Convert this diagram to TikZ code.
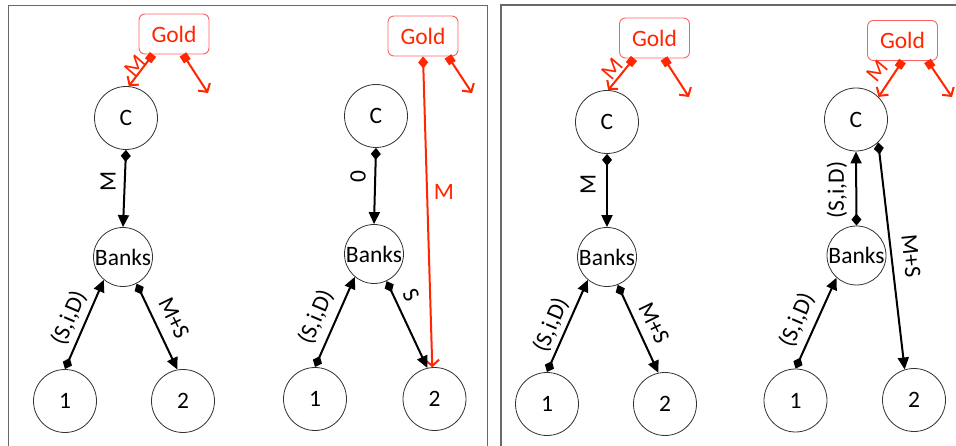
\documentclass[tikz,border=0pt]{standalone}
\usepackage{fontspec}
\setmainfont{Carlito}
\usetikzlibrary{arrows.meta}
\definecolor{pred}{RGB}{255,38,0}
\definecolor{pboxred}{RGB}{255,95,95}
\definecolor{framegray}{RGB}{105,105,105}
\begin{document}
\begin{tikzpicture}[x=1pt,y=-1pt,
  every node/.style={font=\fontsize{23.5}{28}\selectfont},
  agent/.style={circle, draw=black!80, line width=0.8pt, minimum size=63pt, inner sep=0pt, fill=white},
  bank/.style={agent, minimum size=59pt},
  goldbox/.style={draw=pboxred, rounded corners=6pt, line width=0.9pt, minimum width=70pt, minimum height=40pt, inner sep=0pt, text=pred},
  flow/.style={line width=2pt, {Diamond[length=12pt,width=10pt]}-{Triangle[length=12pt,width=11pt]}},
  goldflow/.style={draw=pred, line width=2pt, {Square[length=8pt,width=8pt]}-{Straight Barb[length=6pt,width=14pt]}},
  goldline/.style={draw=pred, line width=2pt, {Diamond[length=12pt,width=10pt]}-{Straight Barb[length=6pt,width=14pt]}},
  lbl/.style={inner sep=0pt},
  redlbl/.style={lbl, text=pred},
  frameline/.style={draw=framegray, line width=1.5pt}]
\useasboundingbox (0,0) rectangle (956,446);
% frames
\coordinate (fa1) at (8.5,446);
\coordinate (fa2) at (8.5,5.5);
\coordinate (fa3) at (487.5,5.5);
\coordinate (fa4) at (487.5,446);
\coordinate (fb1) at (501,446);
\coordinate (fb2) at (501,5);
\coordinate (fb3) at (956,5);
\draw[frameline] (fa1) -- (fa2) -- (fa3) -- (fa4);
\draw[frameline] (fb1) -- (fb2) -- (fb3);

% ---------- panel 1 ----------
\node[goldbox] (G1) at (174,34) {Gold};
\node[agent] (C1) at (126,118) {C};
\node[bank] (B1) at (123,257) {Banks};
\node[agent] (P11) at (65,401) {1};
\node[agent] (P12) at (183,401) {2};
\coordinate (f1) at (208,93);
\draw[goldflow] ([xshift=-21pt]G1.south) -- (C1.85);
\draw[goldflow] ([xshift=9pt]G1.south) -- (f1);
\draw[flow] (C1.south) -- (B1.north);
\draw[flow] (P11.north) -- (B1.230);
\draw[flow] (B1.-63) -- (P12.100);
\node[redlbl, rotate=49] (l1a) at (135,66) {M};
\node[lbl, rotate=90] (l1b) at (108,181) {M};
\node[lbl, rotate=67] (l1c) at (69,318) {(S,i,D)};
\node[lbl, rotate=-64] (l1d) at (174,318) {M+S};

% ---------- panel 2 ----------
\node[goldbox] (G2) at (423,36) {Gold};
\node[agent] (C2) at (376,116) {C};
\node[bank] (B2) at (374,254) {Banks};
\node[agent] (P21) at (315,399) {1};
\node[agent] (P22) at (434.5,399) {2};
\coordinate (f2) at (472,93);
\draw[goldline] (G2.south) -- (P22.94);
\draw[goldflow] ([xshift=25pt]G2.south) -- (f2);
\draw[flow] (C2.south) -- (B2.north);
\draw[flow] (P21.north) -- (B2.230);
\draw[flow] (B2.-65) -- (P22.103);
\node[redlbl] (l2a) at (444,192) {M};
\node[lbl, rotate=90] (l2b) at (358,177) {0};
\node[lbl, rotate=67] (l2c) at (316,317) {(S,i,D)};
\node[lbl, rotate=-64] (l2d) at (411,295) {S};

% ---------- panel 3 ----------
\node[goldbox] (G3) at (654.5,38) {Gold};
\node[agent] (C3) at (607,122) {C};
\node[bank] (B3) at (607,257) {Banks};
\node[agent] (P31) at (547,404) {1};
\node[agent] (P32) at (665,404) {2};
\coordinate (f3) at (689,97);
\draw[goldflow] ([xshift=-20.5pt]G3.south) -- (C3.88);
\draw[goldflow] ([xshift=9.5pt]G3.south) -- (f3);
\draw[flow] (C3.south) -- (B3.north);
\draw[flow] (P31.north) -- (B3.230);
\draw[flow] (B3.-69) -- (P32.102);
\node[redlbl, rotate=50] (l3a) at (612,69) {M};
\node[lbl, rotate=90] (l3b) at (588,184) {M};
\node[lbl, rotate=67] (l3c) at (551,325) {(S,i,D)};
\node[lbl, rotate=-64] (l3d) at (654,323) {M+S};

% ---------- panel 4 ----------
\node[goldbox] (G4) at (902.5,40.5) {Gold};
\node[agent] (C4) at (856,119.5) {C};
\node[bank] (B4) at (856.5,255.5) {Banks};
\node[agent] (P41) at (795.5,400.5) {1};
\node[agent] (P42) at (914,400) {2};
\coordinate (f4) at (952,97);
\draw[goldflow] (G4.south) -- (C4.45);
\draw[goldflow] ([xshift=25pt]G4.south) -- (f4);
\draw[flow] (B4.north) -- (C4.south);
\draw[flow] (P41.north) -- (B4.228);
\draw[flow] (C4.-46) -- (P42.107);
\node[redlbl, rotate=50] (l4a) at (877,71) {M};
\node[lbl, rotate=90] (l4b) at (837,190) {(S,i,D)};
\node[lbl, rotate=67] (l4c) at (797,320) {(S,i,D)};
\node[lbl, rotate=-84] (l4d) at (911,256) {M+S};
\end{tikzpicture}
\end{document}
